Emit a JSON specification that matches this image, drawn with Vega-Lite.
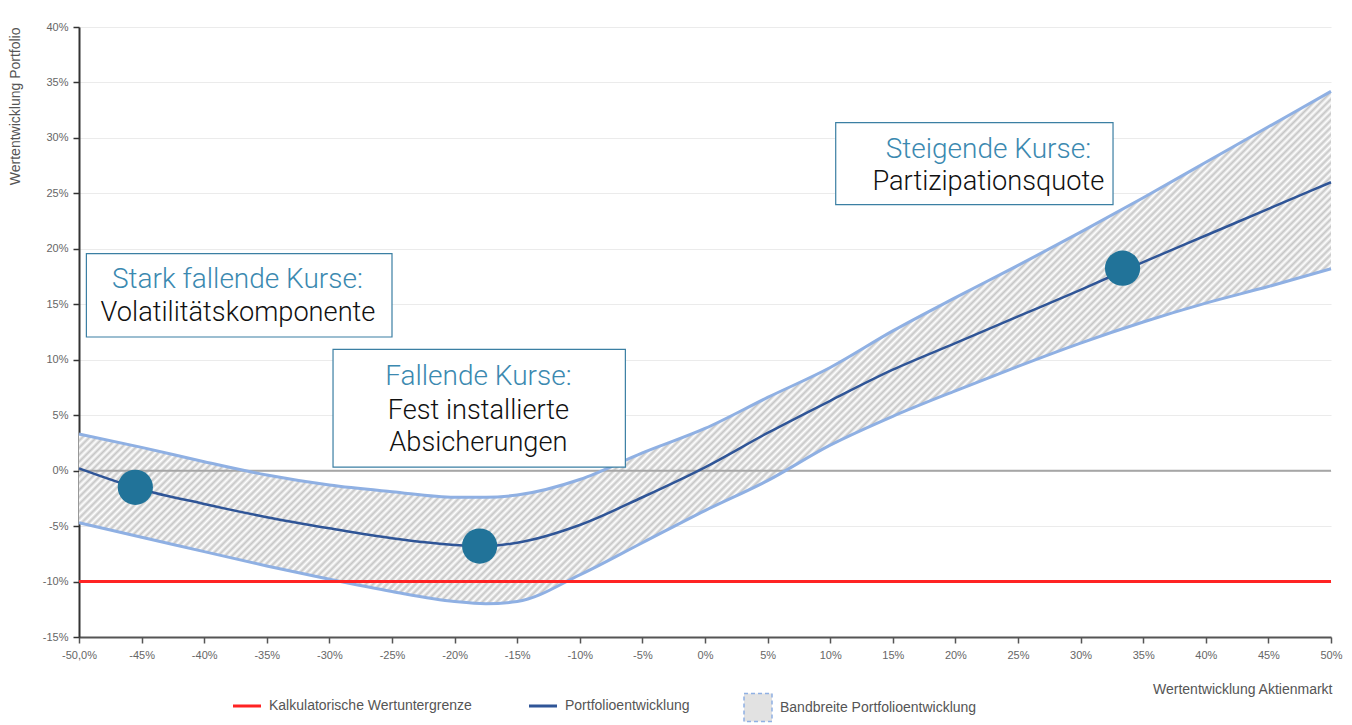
{
"$schema": "https://vega.github.io/schema/vega-lite/v6.json",
"width": 1252, "height": 610,
"autosize": "none",
"padding": {"left": 79, "top": 27, "right": 21, "bottom": 88},
"background": "white",
"config": {"view": {"stroke": null}, "font": "Liberation Sans"},
"datasets": {
"curve": [
{"x":-50,"mid":0.2,"up":3.3,"lo":-4.7},
{"x":-45,"mid":-1.7,"up":2.1,"lo":-6.0},
{"x":-40,"mid":-3.0,"up":0.8,"lo":-7.3},
{"x":-35,"mid":-4.2,"up":-0.4,"lo":-8.6},
{"x":-30,"mid":-5.2,"up":-1.3,"lo":-9.8},
{"x":-25,"mid":-6.1,"up":-1.9,"lo":-10.9},
{"x":-20,"mid":-6.7,"up":-2.4,"lo":-11.8},
{"x":-17.5,"mid":-6.8,"up":-2.4,"lo":-12.0},
{"x":-15,"mid":-6.5,"up":-2.2,"lo":-11.8},
{"x":-10,"mid":-4.9,"up":-0.8,"lo":-9.4},
{"x":-5,"mid":-2.4,"up":1.6,"lo":-6.5},
{"x":0,"mid":0.3,"up":3.8,"lo":-3.6},
{"x":5,"mid":3.4,"up":6.6,"lo":-0.9},
{"x":10,"mid":6.3,"up":9.3,"lo":2.3},
{"x":15,"mid":9.1,"up":12.6,"lo":4.9},
{"x":20,"mid":11.5,"up":15.6,"lo":7.2},
{"x":25,"mid":13.9,"up":18.5,"lo":9.4},
{"x":30,"mid":16.3,"up":21.5,"lo":11.5},
{"x":35,"mid":18.8,"up":24.6,"lo":13.4},
{"x":40,"mid":21.2,"up":27.8,"lo":15.1},
{"x":45,"mid":23.6,"up":31.0,"lo":16.6},
{"x":50,"mid":26.0,"up":34.2,"lo":18.2}
],
"boxes": [
{"x1":-49.41,"x2":-25.0,"y1":19.57,"y2":12.05},
{"x1":-29.71,"x2":-6.36,"y1":10.94,"y2":0.32},
{"x1":10.44,"x2":32.59,"y1":31.38,"y2":23.99}
],
"labels": [
{"x":-37.35,"y":16.47,"text":"Stark fallende Kurse:","role":"head"},
{"x":-37.3,"y":13.46,"text":"Volatilitätskomponente","role":"body"},
{"x":-18.1,"y":7.75,"text":"Fallende Kurse:","role":"head"},
{"x":-18.1,"y":4.63,"text":"Fest installierte","role":"body"},
{"x":-18.1,"y":1.74,"text":"Absicherungen","role":"body"},
{"x":22.63,"y":28.19,"text":"Steigende Kurse:","role":"head"},
{"x":22.63,"y":25.27,"text":"Partizipationsquote","role":"body"}
],
"dots": [
{"x":-45.5,"y":-1.5},
{"x":-18.0,"y":-6.8},
{"x":33.35,"y":18.25}
]
},
"layer": [
{
"data": {"name": "curve"},
"mark": {"type": "area", "interpolate": "monotone", "fill": {"gradient": "linear", "x1": 0, "y1": 0, "x2": 1.2071, "y2": 0.494, "stops": [
{"offset":0.180,"color":"#fff"},{"offset":0.182,"color":"#c6c6c6"},{"offset":0.184,"color":"#fff"},{"offset":0.186,"color":"#c6c6c6"},{"offset":0.188,"color":"#fff"},{"offset":0.190,"color":"#c6c6c6"},{"offset":0.192,"color":"#fff"},{"offset":0.194,"color":"#c6c6c6"},{"offset":0.196,"color":"#fff"},{"offset":0.198,"color":"#c6c6c6"},
{"offset":0.200,"color":"#fff"},{"offset":0.202,"color":"#c6c6c6"},{"offset":0.204,"color":"#fff"},{"offset":0.206,"color":"#c6c6c6"},{"offset":0.208,"color":"#fff"},{"offset":0.210,"color":"#c6c6c6"},{"offset":0.212,"color":"#fff"},{"offset":0.214,"color":"#c6c6c6"},{"offset":0.216,"color":"#fff"},{"offset":0.218,"color":"#c6c6c6"},
{"offset":0.220,"color":"#fff"},{"offset":0.222,"color":"#c6c6c6"},{"offset":0.224,"color":"#fff"},{"offset":0.226,"color":"#c6c6c6"},{"offset":0.228,"color":"#fff"},{"offset":0.230,"color":"#c6c6c6"},{"offset":0.232,"color":"#fff"},{"offset":0.234,"color":"#c6c6c6"},{"offset":0.236,"color":"#fff"},{"offset":0.238,"color":"#c6c6c6"},
{"offset":0.240,"color":"#fff"},{"offset":0.242,"color":"#c6c6c6"},{"offset":0.244,"color":"#fff"},{"offset":0.246,"color":"#c6c6c6"},{"offset":0.248,"color":"#fff"},{"offset":0.250,"color":"#c6c6c6"},{"offset":0.252,"color":"#fff"},{"offset":0.254,"color":"#c6c6c6"},{"offset":0.256,"color":"#fff"},{"offset":0.258,"color":"#c6c6c6"},
{"offset":0.260,"color":"#fff"},{"offset":0.262,"color":"#c6c6c6"},{"offset":0.264,"color":"#fff"},{"offset":0.266,"color":"#c6c6c6"},{"offset":0.268,"color":"#fff"},{"offset":0.270,"color":"#c6c6c6"},{"offset":0.272,"color":"#fff"},{"offset":0.274,"color":"#c6c6c6"},{"offset":0.276,"color":"#fff"},{"offset":0.278,"color":"#c6c6c6"},
{"offset":0.280,"color":"#fff"},{"offset":0.282,"color":"#c6c6c6"},{"offset":0.284,"color":"#fff"},{"offset":0.286,"color":"#c6c6c6"},{"offset":0.288,"color":"#fff"},{"offset":0.290,"color":"#c6c6c6"},{"offset":0.292,"color":"#fff"},{"offset":0.294,"color":"#c6c6c6"},{"offset":0.296,"color":"#fff"},{"offset":0.298,"color":"#c6c6c6"},
{"offset":0.300,"color":"#fff"},{"offset":0.302,"color":"#c6c6c6"},{"offset":0.304,"color":"#fff"},{"offset":0.306,"color":"#c6c6c6"},{"offset":0.308,"color":"#fff"},{"offset":0.310,"color":"#c6c6c6"},{"offset":0.312,"color":"#fff"},{"offset":0.314,"color":"#c6c6c6"},{"offset":0.316,"color":"#fff"},{"offset":0.318,"color":"#c6c6c6"},
{"offset":0.320,"color":"#fff"},{"offset":0.322,"color":"#c6c6c6"},{"offset":0.324,"color":"#fff"},{"offset":0.326,"color":"#c6c6c6"},{"offset":0.328,"color":"#fff"},{"offset":0.330,"color":"#c6c6c6"},{"offset":0.332,"color":"#fff"},{"offset":0.334,"color":"#c6c6c6"},{"offset":0.336,"color":"#fff"},{"offset":0.338,"color":"#c6c6c6"},
{"offset":0.340,"color":"#fff"},{"offset":0.342,"color":"#c6c6c6"},{"offset":0.344,"color":"#fff"},{"offset":0.346,"color":"#c6c6c6"},{"offset":0.348,"color":"#fff"},{"offset":0.350,"color":"#c6c6c6"},{"offset":0.352,"color":"#fff"},{"offset":0.354,"color":"#c6c6c6"},{"offset":0.356,"color":"#fff"},{"offset":0.358,"color":"#c6c6c6"},
{"offset":0.360,"color":"#fff"},{"offset":0.362,"color":"#c6c6c6"},{"offset":0.364,"color":"#fff"},{"offset":0.366,"color":"#c6c6c6"},{"offset":0.368,"color":"#fff"},{"offset":0.370,"color":"#c6c6c6"},{"offset":0.372,"color":"#fff"},{"offset":0.374,"color":"#c6c6c6"},{"offset":0.376,"color":"#fff"},{"offset":0.378,"color":"#c6c6c6"},
{"offset":0.380,"color":"#fff"},{"offset":0.382,"color":"#c6c6c6"},{"offset":0.384,"color":"#fff"},{"offset":0.386,"color":"#c6c6c6"},{"offset":0.388,"color":"#fff"},{"offset":0.390,"color":"#c6c6c6"},{"offset":0.392,"color":"#fff"},{"offset":0.394,"color":"#c6c6c6"},{"offset":0.396,"color":"#fff"},{"offset":0.398,"color":"#c6c6c6"},
{"offset":0.400,"color":"#fff"},{"offset":0.402,"color":"#c6c6c6"},{"offset":0.404,"color":"#fff"},{"offset":0.406,"color":"#c6c6c6"},{"offset":0.408,"color":"#fff"},{"offset":0.410,"color":"#c6c6c6"},{"offset":0.412,"color":"#fff"},{"offset":0.414,"color":"#c6c6c6"},{"offset":0.416,"color":"#fff"},{"offset":0.418,"color":"#c6c6c6"},
{"offset":0.420,"color":"#fff"},{"offset":0.422,"color":"#c6c6c6"},{"offset":0.424,"color":"#fff"},{"offset":0.426,"color":"#c6c6c6"},{"offset":0.428,"color":"#fff"},{"offset":0.430,"color":"#c6c6c6"},{"offset":0.432,"color":"#fff"},{"offset":0.434,"color":"#c6c6c6"},{"offset":0.436,"color":"#fff"},{"offset":0.438,"color":"#c6c6c6"},
{"offset":0.440,"color":"#fff"},{"offset":0.442,"color":"#c6c6c6"},{"offset":0.444,"color":"#fff"},{"offset":0.446,"color":"#c6c6c6"},{"offset":0.448,"color":"#fff"},{"offset":0.450,"color":"#c6c6c6"},{"offset":0.452,"color":"#fff"},{"offset":0.454,"color":"#c6c6c6"},{"offset":0.456,"color":"#fff"},{"offset":0.458,"color":"#c6c6c6"},
{"offset":0.460,"color":"#fff"},{"offset":0.462,"color":"#c6c6c6"},{"offset":0.464,"color":"#fff"},{"offset":0.466,"color":"#c6c6c6"},{"offset":0.468,"color":"#fff"},{"offset":0.470,"color":"#c6c6c6"},{"offset":0.472,"color":"#fff"},{"offset":0.474,"color":"#c6c6c6"},{"offset":0.476,"color":"#fff"},{"offset":0.478,"color":"#c6c6c6"},
{"offset":0.480,"color":"#fff"},{"offset":0.482,"color":"#c6c6c6"},{"offset":0.484,"color":"#fff"},{"offset":0.486,"color":"#c6c6c6"},{"offset":0.488,"color":"#fff"},{"offset":0.490,"color":"#c6c6c6"},{"offset":0.492,"color":"#fff"},{"offset":0.494,"color":"#c6c6c6"},{"offset":0.496,"color":"#fff"},{"offset":0.498,"color":"#c6c6c6"},
{"offset":0.500,"color":"#fff"},{"offset":0.502,"color":"#c6c6c6"},{"offset":0.504,"color":"#fff"},{"offset":0.506,"color":"#c6c6c6"},{"offset":0.508,"color":"#fff"},{"offset":0.510,"color":"#c6c6c6"},{"offset":0.512,"color":"#fff"},{"offset":0.514,"color":"#c6c6c6"},{"offset":0.516,"color":"#fff"},{"offset":0.518,"color":"#c6c6c6"},
{"offset":0.520,"color":"#fff"},{"offset":0.522,"color":"#c6c6c6"},{"offset":0.524,"color":"#fff"},{"offset":0.526,"color":"#c6c6c6"},{"offset":0.528,"color":"#fff"},{"offset":0.530,"color":"#c6c6c6"},{"offset":0.532,"color":"#fff"},{"offset":0.534,"color":"#c6c6c6"},{"offset":0.536,"color":"#fff"},{"offset":0.538,"color":"#c6c6c6"},
{"offset":0.540,"color":"#fff"},{"offset":0.542,"color":"#c6c6c6"},{"offset":0.544,"color":"#fff"},{"offset":0.546,"color":"#c6c6c6"},{"offset":0.548,"color":"#fff"},{"offset":0.550,"color":"#c6c6c6"},{"offset":0.552,"color":"#fff"},{"offset":0.554,"color":"#c6c6c6"},{"offset":0.556,"color":"#fff"},{"offset":0.558,"color":"#c6c6c6"},
{"offset":0.560,"color":"#fff"},{"offset":0.562,"color":"#c6c6c6"},{"offset":0.564,"color":"#fff"},{"offset":0.566,"color":"#c6c6c6"},{"offset":0.568,"color":"#fff"},{"offset":0.570,"color":"#c6c6c6"},{"offset":0.572,"color":"#fff"},{"offset":0.574,"color":"#c6c6c6"},{"offset":0.576,"color":"#fff"},{"offset":0.578,"color":"#c6c6c6"},
{"offset":0.580,"color":"#fff"},{"offset":0.582,"color":"#c6c6c6"},{"offset":0.584,"color":"#fff"},{"offset":0.586,"color":"#c6c6c6"},{"offset":0.588,"color":"#fff"},{"offset":0.590,"color":"#c6c6c6"},{"offset":0.592,"color":"#fff"},{"offset":0.594,"color":"#c6c6c6"},{"offset":0.596,"color":"#fff"},{"offset":0.598,"color":"#c6c6c6"},
{"offset":0.600,"color":"#fff"},{"offset":0.602,"color":"#c6c6c6"},{"offset":0.604,"color":"#fff"},{"offset":0.606,"color":"#c6c6c6"},{"offset":0.608,"color":"#fff"},{"offset":0.610,"color":"#c6c6c6"},{"offset":0.612,"color":"#fff"},{"offset":0.614,"color":"#c6c6c6"},{"offset":0.616,"color":"#fff"},{"offset":0.618,"color":"#c6c6c6"},
{"offset":0.620,"color":"#fff"},{"offset":0.622,"color":"#c6c6c6"},{"offset":0.624,"color":"#fff"},{"offset":0.626,"color":"#c6c6c6"},{"offset":0.628,"color":"#fff"},{"offset":0.630,"color":"#c6c6c6"},{"offset":0.632,"color":"#fff"},{"offset":0.634,"color":"#c6c6c6"},{"offset":0.636,"color":"#fff"},{"offset":0.638,"color":"#c6c6c6"},
{"offset":0.640,"color":"#fff"},{"offset":0.642,"color":"#c6c6c6"},{"offset":0.644,"color":"#fff"},{"offset":0.646,"color":"#c6c6c6"},{"offset":0.648,"color":"#fff"},{"offset":0.650,"color":"#c6c6c6"},{"offset":0.652,"color":"#fff"},{"offset":0.654,"color":"#c6c6c6"},{"offset":0.656,"color":"#fff"},{"offset":0.658,"color":"#c6c6c6"},
{"offset":0.660,"color":"#fff"},{"offset":0.662,"color":"#c6c6c6"},{"offset":0.664,"color":"#fff"},{"offset":0.666,"color":"#c6c6c6"},{"offset":0.668,"color":"#fff"},{"offset":0.670,"color":"#c6c6c6"},{"offset":0.672,"color":"#fff"},{"offset":0.674,"color":"#c6c6c6"},{"offset":0.676,"color":"#fff"},{"offset":0.678,"color":"#c6c6c6"},
{"offset":0.680,"color":"#fff"},{"offset":0.682,"color":"#c6c6c6"},{"offset":0.684,"color":"#fff"},{"offset":0.686,"color":"#c6c6c6"},{"offset":0.688,"color":"#fff"},{"offset":0.690,"color":"#c6c6c6"},{"offset":0.692,"color":"#fff"},{"offset":0.694,"color":"#c6c6c6"},{"offset":0.696,"color":"#fff"},{"offset":0.698,"color":"#c6c6c6"},
{"offset":0.700,"color":"#fff"},{"offset":0.702,"color":"#c6c6c6"},{"offset":0.704,"color":"#fff"},{"offset":0.706,"color":"#c6c6c6"},{"offset":0.708,"color":"#fff"},{"offset":0.710,"color":"#c6c6c6"},{"offset":0.712,"color":"#fff"},{"offset":0.714,"color":"#c6c6c6"},{"offset":0.716,"color":"#fff"},{"offset":0.718,"color":"#c6c6c6"},
{"offset":0.720,"color":"#fff"},{"offset":0.722,"color":"#c6c6c6"},{"offset":0.724,"color":"#fff"},{"offset":0.726,"color":"#c6c6c6"},{"offset":0.728,"color":"#fff"},{"offset":0.730,"color":"#c6c6c6"},{"offset":0.732,"color":"#fff"},{"offset":0.734,"color":"#c6c6c6"},{"offset":0.736,"color":"#fff"},{"offset":0.738,"color":"#c6c6c6"},
{"offset":0.740,"color":"#fff"},{"offset":0.742,"color":"#c6c6c6"},{"offset":0.744,"color":"#fff"},{"offset":0.746,"color":"#c6c6c6"},{"offset":0.748,"color":"#fff"},{"offset":0.750,"color":"#c6c6c6"},{"offset":0.752,"color":"#fff"},{"offset":0.754,"color":"#c6c6c6"},{"offset":0.756,"color":"#fff"},{"offset":0.758,"color":"#c6c6c6"},
{"offset":0.760,"color":"#fff"},{"offset":0.762,"color":"#c6c6c6"},{"offset":0.764,"color":"#fff"},{"offset":0.766,"color":"#c6c6c6"},{"offset":0.768,"color":"#fff"},{"offset":0.770,"color":"#c6c6c6"},{"offset":0.772,"color":"#fff"},{"offset":0.774,"color":"#c6c6c6"},{"offset":0.776,"color":"#fff"},{"offset":0.778,"color":"#c6c6c6"},
{"offset":0.780,"color":"#fff"},{"offset":0.782,"color":"#c6c6c6"},{"offset":0.784,"color":"#fff"},{"offset":0.786,"color":"#c6c6c6"},{"offset":0.788,"color":"#fff"},{"offset":0.790,"color":"#c6c6c6"},{"offset":0.792,"color":"#fff"},{"offset":0.794,"color":"#c6c6c6"},{"offset":0.796,"color":"#fff"},{"offset":0.798,"color":"#c6c6c6"},
{"offset":0.800,"color":"#fff"},{"offset":0.802,"color":"#c6c6c6"},{"offset":0.804,"color":"#fff"},{"offset":0.806,"color":"#c6c6c6"},{"offset":0.808,"color":"#fff"},{"offset":0.810,"color":"#c6c6c6"},{"offset":0.812,"color":"#fff"},{"offset":0.814,"color":"#c6c6c6"},{"offset":0.816,"color":"#fff"},{"offset":0.818,"color":"#c6c6c6"},
{"offset":0.820,"color":"#fff"},{"offset":0.822,"color":"#c6c6c6"},{"offset":0.824,"color":"#fff"},{"offset":0.826,"color":"#c6c6c6"},{"offset":0.828,"color":"#fff"},{"offset":0.830,"color":"#c6c6c6"}
]}},
"encoding": {
"x": {"field": "x", "type": "quantitative", "scale": {"domain": [-50, 50], "nice": false, "zero": false},
 "axis": {"values": [-50,-45,-40,-35,-30,-25,-20,-15,-10,-5,0,5,10,15,20,25,30,35,40,45,50],
  "labelExpr": "datum.value === -50 ? '-50,0%' : datum.value + '%'",
  "title": "Wertentwicklung Aktienmarkt", "titleX": 1253, "titleY": 52, "titleAlign": "right", "titleBaseline": "middle",
  "titleFontWeight": "normal", "titleFontSize": 14, "titleColor": "#555",
  "labelFontSize": 11, "labelColor": "#666", "labelPadding": 6, "labelFlush": false, "labelOverlap": false, "labelBound": false,
  "tickSize": 6, "tickColor": "#555", "tickWidth": 1.5, "domainColor": "#555", "domainWidth": 2, "grid": false}},
"y": {"field": "lo", "type": "quantitative", "scale": {"domain": [-15, 40], "nice": false, "zero": false},
 "axis": {"values": [-15,-10,-5,0,5,10,15,20,25,30,35,40],
  "labelExpr": "datum.value + '%'",
  "title": "Wertentwicklung Portfolio", "titleX": -64, "titleY": 0, "titleAngle": -90, "titleAlign": "right", "titleBaseline": "middle",
  "titleFontWeight": "normal", "titleFontSize": 14, "titleColor": "#555",
  "labelFontSize": 11, "labelColor": "#666", "labelPadding": 5, "labelFlush": false, "labelOverlap": false, "labelBound": false,
  "tickSize": 6, "tickColor": "#333", "tickWidth": 1.5, "domainColor": "#333", "domainWidth": 2,
  "grid": true, "gridColor": "#ebebeb", "gridWidth": 1}},
"y2": {"field": "up"}
}
},
{
"data": {"values": [{}]},
"mark": {"type": "rule", "color": "#a6a6a6", "strokeWidth": 2},
"encoding": {"y": {"datum": 0, "type": "quantitative"}}
},
{
"data": {"name": "curve"},
"mark": {"type": "line", "interpolate": "monotone", "color": "#8fb0e3", "strokeWidth": 3},
"encoding": {"x": {"field": "x", "type": "quantitative"}, "y": {"field": "up", "type": "quantitative"}}
},
{
"data": {"name": "curve"},
"mark": {"type": "line", "interpolate": "monotone", "color": "#8fb0e3", "strokeWidth": 3},
"encoding": {"x": {"field": "x", "type": "quantitative"}, "y": {"field": "lo", "type": "quantitative"}}
},
{
"data": {"values": [{}]},
"mark": {"type": "rule", "strokeWidth": 3},
"encoding": {
"y": {"datum": -10, "type": "quantitative"},
"color": {"datum": "Kalkulatorische Wertuntergrenze", "type": "nominal",
 "scale": {"domain": ["Kalkulatorische Wertuntergrenze", "Portfolioentwicklung", "Bandbreite Portfolioentwicklung"], "range": ["#ff2323", "#2f5597", "#8fb0e3"]},
 "legend": {"orient": "none", "legendX": 161, "legendY": 672, "direction": "horizontal", "title": null,
  "symbolSize": 784, "symbolStrokeWidth": 3, "labelFontSize": 14, "labelColor": "#555", "labelOffset": 15, "labelLimit": 400,
  "columnPadding": 51, "padding": 0,
  "encode": {"symbols": {"update": {
   "shape": {"signal": "datum.value === 'Bandbreite Portfolioentwicklung' ? 'square' : 'M-1,-1M-1,0L1,0M1,1'"},
   "fill": {"signal": "datum.value === 'Bandbreite Portfolioentwicklung' ? '#e2e2e2' : 'transparent'"},
   "stroke": {"signal": "datum.value === 'Bandbreite Portfolioentwicklung' ? '#8fb0e3' : scale('color', datum.value)"},
   "strokeDash": {"signal": "datum.value === 'Bandbreite Portfolioentwicklung' ? [4, 3] : [1, 0]"},
   "strokeWidth": {"signal": "datum.value === 'Bandbreite Portfolioentwicklung' ? 1.5 : 3"}
  }}}}
}
}
},
{
"data": {"name": "curve"},
"mark": {"type": "line", "interpolate": "monotone", "strokeWidth": 2.5},
"encoding": {"x": {"field": "x", "type": "quantitative"}, "y": {"field": "mid", "type": "quantitative"}, "color": {"datum": "Portfolioentwicklung", "type": "nominal"}}
},
{
"data": {"name": "boxes"},
"mark": {"type": "rect", "fill": "white", "stroke": "#3b7fa3", "strokeWidth": 1.2},
"encoding": {"x": {"field": "x1", "type": "quantitative"}, "x2": {"field": "x2"}, "y": {"field": "y1", "type": "quantitative"}, "y2": {"field": "y2"}}
},
{
"data": {"name": "labels"},
"transform": [{"filter": "datum.role === 'head'"}],
"mark": {"type": "text", "font": "Roboto", "fontWeight": 300, "fontSize": 28, "color": "#3b89b0", "align": "center", "baseline": "alphabetic"},
"encoding": {"x": {"field": "x", "type": "quantitative"}, "y": {"field": "y", "type": "quantitative"}, "text": {"field": "text"}}
},
{
"data": {"name": "labels"},
"transform": [{"filter": "datum.role === 'body'"}],
"mark": {"type": "text", "font": "Roboto", "fontWeight": 300, "fontSize": 27.2, "color": "#111", "align": "center", "baseline": "alphabetic"},
"encoding": {"x": {"field": "x", "type": "quantitative"}, "y": {"field": "y", "type": "quantitative"}, "text": {"field": "text"}}
},
{
"data": {"name": "dots"},
"mark": {"type": "circle", "size": 1240, "color": "#217399", "opacity": 1},
"encoding": {"x": {"field": "x", "type": "quantitative"}, "y": {"field": "y", "type": "quantitative"}}
}
]
}
